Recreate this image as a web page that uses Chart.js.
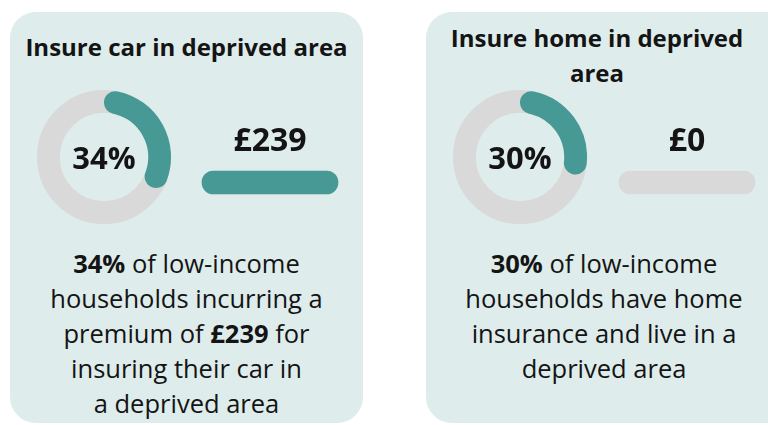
<!DOCTYPE html>
<html>
<head>
<meta charset="utf-8">
<script src="https://cdn.jsdelivr.net/npm/chart.js@4"></script>
<style>
  html, body { margin: 0; padding: 0; background: #fff; }
  body { width: 768px; height: 425px; position: relative; overflow: hidden; font-family: "Open Sans", sans-serif; color: #141414; }
  .card { position: absolute; top: 12px; height: 411px; background: #deeceb; border-radius: 26px; }
  .title { position: absolute; text-align: center; font-weight: 700; font-size: 24px; line-height: 35px; white-space: nowrap; }
  .pct { position: absolute; width: 134px; text-align: center; font-weight: 700; font-size: 31px; line-height: 32px; }
  .amount { position: absolute; width: 136px; text-align: center; font-weight: 700; font-size: 32px; line-height: 34px; }
  .desc { position: absolute; text-align: center; font-size: 25.5px; line-height: 35px; white-space: nowrap; }
  canvas { position: absolute; }
</style>
</head>
<body>
<div class="card" style="left:10px; width:353px;"></div>
<div class="card" style="left:426px; width:370px;"></div>

<div class="title" style="left:10px; width:353px; top:29px;" id="t0"></div>
<div class="title" style="left:426px; width:342px; top:20px;" id="t1"></div>

<canvas id="ring0" style="left:37px; top:90px; width:134px; height:134px;"></canvas>
<canvas id="ring1" style="left:453px; top:90px; width:134px; height:134px;"></canvas>
<div class="pct" style="left:37px; top:141px;" id="p0"></div>
<div class="pct" style="left:453px; top:141px;" id="p1"></div>

<div class="amount" style="left:202px; top:122px;" id="a0"></div>
<div class="amount" style="left:619px; top:122px;" id="a1"></div>
<canvas id="bar0" style="left:201px; top:170px; width:138px; height:25px;"></canvas>
<canvas id="bar1" style="left:618px; top:170px; width:138px; height:25px;"></canvas>

<div class="desc" style="left:10px; width:353px; top:246px;">
  <b>34%</b> of low-income<br>households incurring a<br>premium of <b>£239</b> for<br>insuring their car in<br>a deprived area
</div>
<div class="desc" style="left:426px; width:356px; top:246px;">
  <b>30%</b> of low-income<br>households have home<br>insurance and live in a<br>deprived area
</div>

<script>
const cardTitles = ['Insure car in deprived area', 'Insure home in deprived<br>area'];
const sharePct = [34, 30];
const premiumGBP = [239, 0];
const premiumMax = 239;

const teal = '#469995';
const track = '#d9d9d9';

// grey ring under the doughnut so the teal arc's round caps sit on it
const ringTrack = {
  id: 'ringTrack',
  beforeDatasetsDraw(chart) {
    const arc = chart.getDatasetMeta(0).data[0];
    if (!arc) return;
    const ctx = chart.ctx;
    const r = (arc.outerRadius + arc.innerRadius) / 2;
    ctx.save();
    ctx.beginPath();
    ctx.arc(arc.x, arc.y, r, 0, Math.PI * 2);
    ctx.lineWidth = arc.outerRadius - arc.innerRadius;
    ctx.strokeStyle = track;
    ctx.stroke();
    ctx.restore();
  }
};

for (let i = 0; i < 2; i++) {
  document.getElementById('t' + i).innerHTML = cardTitles[i];
  document.getElementById('p' + i).textContent = sharePct[i] + '%';
  document.getElementById('a' + i).textContent = '£' + premiumGBP[i];

  new Chart(document.getElementById('ring' + i), {
    type: 'doughnut',
    data: {
      labels: ['share', 'rest'],
      datasets: [{
        data: [sharePct[i], 100 - sharePct[i]],
        backgroundColor: [teal, 'rgba(0,0,0,0)'],
        borderWidth: 0,
        borderRadius: ctx => ctx.dataIndex === 0 ? 12 : 0
      }]
    },
    options: {
      responsive: false,
      animation: false,
      cutout: '66%',
      layout: { padding: 0 },
      plugins: { legend: { display: false }, tooltip: { enabled: false } }
    },
    plugins: [ringTrack]
  });

  new Chart(document.getElementById('bar' + i), {
    type: 'bar',
    data: {
      labels: ['premium'],
      datasets: [
        {
          data: [premiumGBP[i]],
          backgroundColor: ctx => ctx.raw > 0 ? teal : 'rgba(0,0,0,0)',
          borderRadius: 12, borderSkipped: false, barThickness: 23,
          grouped: false, order: 0, clip: false
        },
        {
          data: [premiumMax],
          backgroundColor: track,
          borderRadius: 12, borderSkipped: false, barThickness: 23,
          grouped: false, order: 1, clip: false
        }
      ]
    },
    options: {
      indexAxis: 'y',
      responsive: false,
      animation: false,
      layout: { padding: 1 },
      scales: {
        x: { display: false, min: 0, max: premiumMax },
        y: { display: false }
      },
      plugins: { legend: { display: false }, tooltip: { enabled: false } }
    }
  });
}
</script>
</body>
</html>
